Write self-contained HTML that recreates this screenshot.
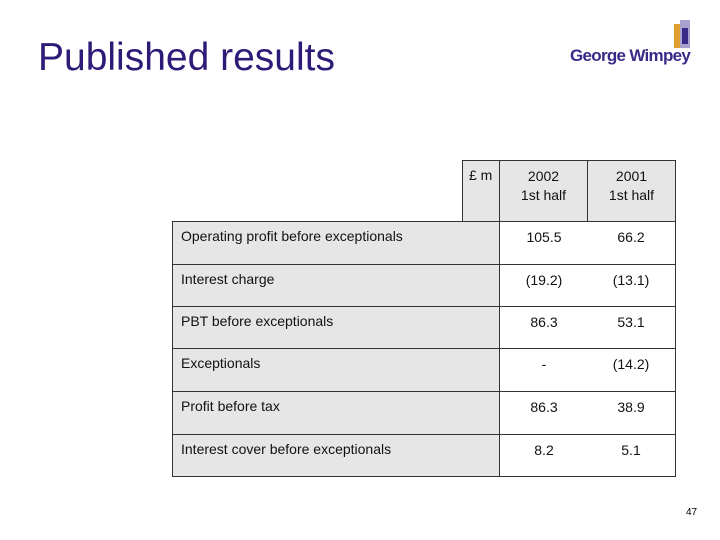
<!DOCTYPE html>
<html><head><meta charset="utf-8"><style>
body{margin:0;width:720px;height:540px;background:#fff;position:relative;overflow:hidden;font-family:"Liberation Sans",sans-serif}
.c{position:absolute;box-sizing:border-box;border:1px solid #333;font-size:14px;color:#111}
.g{background:#e6e6e6}
.l{padding:6px 0 0 8px}
.v{text-align:center;padding-top:6px;line-height:19px}
</style></head><body>
<div style="position:absolute;left:38px;top:36px;font-size:39px;color:#2e1a77">Published results</div>
<div style="position:absolute;left:570px;top:20px;width:130px;height:50px">
<div style="position:absolute;left:104px;top:4px;width:8px;height:24px;background:#e0a030"></div>
<div style="position:absolute;left:110px;top:0;width:10px;height:28px;background:#a9a2cf"></div>
<div style="position:absolute;left:112px;top:8px;width:6px;height:16px;background:#3a2a88"></div>
<div style="position:absolute;left:0;top:26px;font-size:17px;font-weight:bold;color:#3a2a88;letter-spacing:-0.7px;white-space:nowrap">George Wimpey</div>
</div>
<div class="c g" style="left:462px;top:160px;width:38px;height:62px;padding:6px 0 0 6px">£ m</div>
<div class="c g v" style="left:499px;top:160px;width:89px;height:62px">2002<br>1st half</div>
<div class="c g v" style="left:587px;top:160px;width:89px;height:62px">2001<br>1st half</div>
<div id="rows"></div>
<div style="position:absolute;left:686px;top:507px;font-size:10px">47</div>
<script>
const labels=["Operating profit before exceptionals","Interest charge","PBT before exceptionals","Exceptionals","Profit before tax","Interest cover before exceptionals"];
const v2002=["105.5","(19.2)","86.3","-","86.3","8.2"];
const v2001=["66.2","(13.1)","53.1","(14.2)","38.9","5.1"];
const tops=[221,264,306,348,391,434,476];
const r=document.getElementById('rows');
labels.forEach((t,i)=>{
 const h=tops[i+1]-tops[i]+1;
 const a=document.createElement('div');a.className='c g l';
 
 
 a.style.cssText=`left:172px;top:${tops[i]}px;width:328px;height:${h}px`;a.textContent=t;r.appendChild(a);
 [[v2002,499],[v2001,587]].forEach(([arr,x])=>{
  const b=document.createElement('div');b.className='c v';
  
  
  b.style.cssText=`left:${x}px;top:${tops[i]}px;width:89px;height:${h}px;border-left:none;border-right:none;`+(x==587?'border-right:1px solid #333;':'')+(x==499?'border-left:1px solid #333;':'');
  b.textContent=arr[i];r.appendChild(b);
 });
});
</script>
</body></html>
